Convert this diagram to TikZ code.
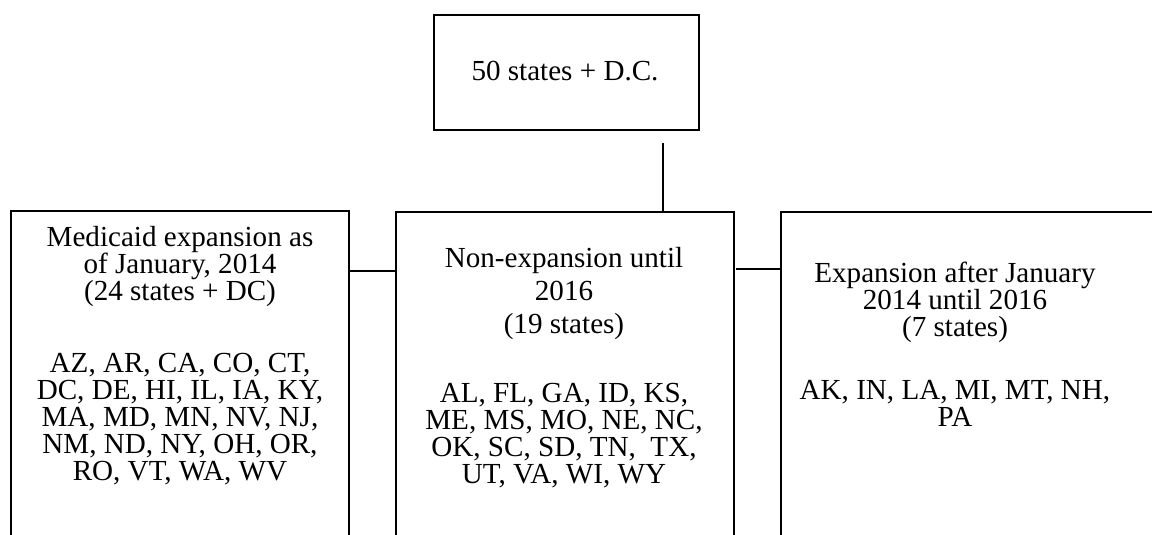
\documentclass[tikz,border=0pt]{standalone}
\usepackage{fontspec}
\setmainfont{Liberation Serif}
\begin{document}
\begin{tikzpicture}[x=0.5pt,y=-0.5pt,
  box/.style={draw,line width=0.8pt,inner sep=0pt,anchor=north west},
  txt/.style={font=\fontsize{14.55}{13.4}\selectfont,align=center,anchor=base,inner sep=0pt},
  txtwide/.style={font=\fontsize{14.55}{16.5}\selectfont,align=center,anchor=base,inner sep=0pt},
  link/.style={line width=0.8pt}]
\useasboundingbox (0,0) rectangle (1152,535);
\clip (0,0) rectangle (1152,535);
% boxes
\node[box,minimum width=132.5pt,minimum height=57.5pt] (top) at (433,14) {};
\node[box,minimum width=169pt,minimum height=180pt] (left) at (10,210) {};
\node[box,minimum width=169pt,minimum height=180pt] (mid) at (395,211) {};
\node[box,minimum width=220pt,minimum height=180pt] (right) at (780,211) {};
% texts (base anchor = baseline of the last line)
\node[txt] (toptxt) at (565,81) {50 states + D.C.};
\node[txt] (lefthead) at (180,300) {Medicaid expansion as\\of January, 2014\\(24 states + DC)};
\node[txt] (leftlist) at (180,480) {AZ, AR, CA, CO, CT,\\DC, DE, HI, IL, IA, KY,\\MA, MD, MN, NV, NJ,\\NM, ND, NY, OH, OR,\\RO, VT, WA, WV};
\node[txtwide] (midhead) at (564,333) {Non-expansion until\\2016\\(19 states)};
\node[txt] (midlist) at (564,483) {AL, FL, GA, ID, KS,\\ME, MS, MO, NE, NC,\\OK, SC, SD, TN,\ \ TX,\\UT, VA, WI, WY};
\node[txt] (righthead) at (955,336) {Expansion after January\\2014 until 2016\\(7 states)};
\node[txt] (rightlist) at (955,426) {AK, IN, LA, MI, MT, NH,\\PA};
% connectors
\coordinate (vstart) at (663,143);
\coordinate (hleft) at (0,271);
\coordinate (hright) at (736,269);
\draw[link] (vstart) -- (vstart |- mid.north);
\draw[link] (left.east |- hleft) -- (mid.west |- hleft);
\draw[link] (hright) -- (right.west |- hright);
\end{tikzpicture}
\end{document}
